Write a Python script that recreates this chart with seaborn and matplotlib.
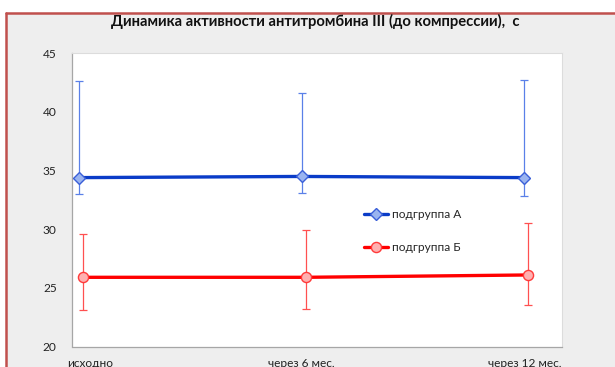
import matplotlib
matplotlib.use("Agg")
import matplotlib.pyplot as plt
import matplotlib.transforms as mtransforms
from matplotlib.patches import Rectangle
from matplotlib.lines import Line2D
import numpy as np
import pandas as pd
import seaborn as sns

# ---- data ----
categories = ["исходно", "через 6 мес.", "через 12 мес."]
group_a_mean = [34.4, 34.5, 34.4]
group_a_upper = [42.6, 41.6, 42.7]
group_a_lower = [33.0, 33.1, 32.8]
group_b_mean = [25.9, 25.9, 26.1]
group_b_upper = [29.6, 29.9, 30.5]
group_b_lower = [23.1, 23.2, 23.5]
series_names = ["подгруппа А", "подгруппа Б"]
title = "Динамика активности антитромбина III (до компрессии),  с"

sns.set_theme(style="white")
plt.rcParams["font.family"] = ["Lato", "DejaVu Sans"]

W, H = 615, 367
fig = plt.figure(figsize=(W / 100, H / 100), dpi=100)
fig.patch.set_facecolor("white")

# chart area panel with its frame
border = "#c0504d"
fig.add_artist(Rectangle((6 / W, 0), 1 - 6 / W, 1 - 13 / H, transform=fig.transFigure,
                         facecolor="#eeeeee", edgecolor="none", zorder=0))
fig.add_artist(Line2D([6 / W, 1], [1 - 13 / H, 1 - 13 / H], transform=fig.transFigure,
                      color=border, lw=1.8, zorder=1))
fig.add_artist(Line2D([6 / W, 6 / W], [0, 1 - 13 / H], transform=fig.transFigure,
                      color=border, lw=1.8, zorder=1))

ax = fig.add_axes([72 / W, 1 - 346.5 / H, (562 - 72) / W, (346.5 - 53.3) / H])
ax.set_facecolor("white")

x = np.arange(len(categories))
dodge = 0.018
df = pd.DataFrame({
    "x": np.concatenate([x, x + dodge]),
    "value": group_a_mean + group_b_mean,
    "group": [series_names[0]] * 3 + [series_names[1]] * 3,
})

blue_line, blue_err, blue_face, blue_edge = "#0a3cc8", "#5a80e8", "#9ab4f0", "#3a5fd8"
red_line, red_err, red_face, red_edge = "#ff0000", "#ff5050", "#ffb0b0", "#ff3a3a"

# error bars
for xs, mean, lo, hi, col in [
    (x, group_a_mean, group_a_lower, group_a_upper, blue_err),
    (x + dodge, group_b_mean, group_b_lower, group_b_upper, red_err),
]:
    mean = np.array(mean)
    yerr = np.vstack([mean - np.array(lo), np.array(hi) - mean])
    ax.errorbar(xs, mean, yerr=yerr, fmt="none", ecolor=col, elinewidth=0.9,
                capsize=3.2, capthick=0.9, zorder=2)

sns.lineplot(data=df, x="x", y="value", hue="group", style="group",
             palette=[blue_line, red_line], markers=["D", "o"], dashes=False,
             linewidth=2.4, markersize=7, ax=ax, zorder=3, legend=False)

for line, face, edge, ms in zip(ax.lines[-2:], [blue_face, red_face], [blue_edge, red_edge], [6.3, 7.3]):
    line.set_markerfacecolor(face)
    line.set_markeredgecolor(edge)
    line.set_markeredgewidth(1.0)
    line.set_markersize(ms)

ax.set_xlim(-0.031, 2.169)
ax.set_ylim(20, 45)
ax.set_yticks([20, 25, 30, 35, 40, 45])
ax.set_xticks(x)
ax.set_xticklabels(categories)
ax.set_xlabel("")
ax.set_ylabel("")

ax.tick_params(axis="both", which="major", labelsize=8.6, colors="#333333",
               length=4, width=0.8, direction="out")
ax.tick_params(axis="y", pad=7, color="#a6a6a6")
ax.tick_params(axis="x", pad=4, color="#a6a6a6")
for lab in ax.get_yticklabels() + ax.get_xticklabels():
    lab.set_color("#222222")
# first category label sits a bit right of its tick
first = ax.get_xticklabels()[0]
first.set_transform(first.get_transform() + mtransforms.ScaledTranslation(0.11, 0, fig.dpi_scale_trans))

for side in ["left", "bottom"]:
    ax.spines[side].set_color("#a6a6a6")
    ax.spines[side].set_linewidth(0.9)
for side in ["top", "right"]:
    ax.spines[side].set_color("#dcdcdc")
    ax.spines[side].set_linewidth(0.8)

# legend
handles = [
    Line2D([], [], color=blue_line, lw=2.4, marker="D", markersize=6.3,
           markerfacecolor=blue_face, markeredgecolor=blue_edge, markeredgewidth=1.0),
    Line2D([], [], color=red_line, lw=2.4, marker="o", markersize=7.3,
           markerfacecolor=red_face, markeredgecolor=red_edge, markeredgewidth=1.0),
]
ax.legend(handles, series_names, loc="upper left", bbox_to_anchor=(356 / W, 1 - 201 / H),
          bbox_transform=fig.transFigure, frameon=False, fontsize=8.6,
          handlelength=2.0, handletextpad=0.35, labelspacing=1.85, borderpad=0.2)

fig.text(315 / W, 1 - 21 / H, title, ha="center", va="center", fontsize=10.6,
         fontweight="bold", color="#111111")

fig.savefig("out.png", dpi=100)
